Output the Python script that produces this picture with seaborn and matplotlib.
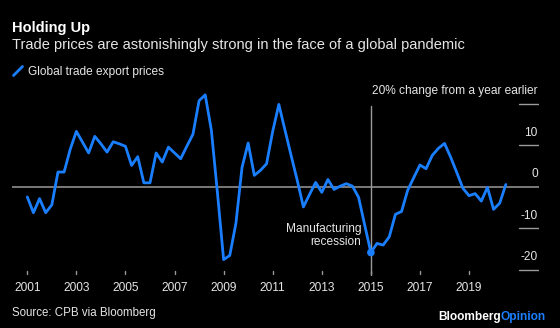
import matplotlib
matplotlib.use("Agg")
import matplotlib.pyplot as plt
import seaborn as sns
import pandas as pd

# Global trade export prices, % change from a year earlier (quarterly)
quarters = pd.period_range("2001Q1", "2020Q3", freq="Q")
export_prices = [
    -2.4, -6.2, -2.8, -6.2,    # 2001
    -4.3, 3.6, 3.6, 9.1,       # 2002
    13.4, 10.8, 8.2, 12.2,     # 2003
    10.4, 8.4, 10.9, 10.4,     # 2004
    9.8, 5.2, 7.3, 1.0,        # 2005
    1.0, 8.2, 6.0, 9.6,        # 2006
    8.2, 6.8, 9.8, 12.7,       # 2007
    20.8, 22.2, 13.7, -1.5,    # 2008
    -17.5, -16.5, -8.8, 4.7,   # 2009
    10.6, 2.8, 4.0, 5.6,       # 2010
    13.4, 19.9, 13.7, 7.6,     # 2011
    1.6, -4.8, -1.8, 1.1,      # 2012
    -1.3, 1.8, -0.6, 0.2,      # 2013
    0.8, 0.2, -2.5, -9.2,      # 2014
    -15.8, -13.6, -14.0, -12.0,  # 2015
    -6.6, -5.9, -0.8, 2.3,     # 2016
    5.3, 4.4, 7.6, 9.3,        # 2017
    10.5, 7.2, 3.5, -0.3,      # 2018
    -2.1, -1.6, -3.4, -0.1,    # 2019
    -5.4, -3.9, 0.6,           # 2020
]
x_ticks = [2001, 2003, 2005, 2007, 2009, 2011, 2013, 2015, 2017, 2019]
y_ticks = [20, 10, 0, -10, -20]
y_labels = ["20% change from a year earlier", "10", "0", "-10", "-20"]
recession_quarter = "2015Q1"

df = pd.DataFrame({
    "t": [q.year + (q.quarter - 1) / 4 for q in quarters],
    "value": export_prices,
})

BG = "black"
BLUE = "#1a7fff"
GRID = "#9a9a9a"
TEXT = "#e6e6e6"

sns.set_style("dark", {"axes.facecolor": BG, "figure.facecolor": BG})
plt.rcParams["font.family"] = ["Liberation Sans", "DejaVu Sans"]

W, H = 560, 328
fig = plt.figure(figsize=(W / 100, H / 100), dpi=100)
fig.patch.set_facecolor(BG)

# axes spans pixel columns 12..539 and rows 90..276
ax = fig.add_axes([12 / W, (H - 276) / H, 527 / W, 186 / H])
ax.set_facecolor(BG)
ax.set_xlim(2000.377, 2021.851)
ax.set_ylim(-21.45, 23.37)
for s in ax.spines.values():
    s.set_visible(False)
ax.set_xticks([])
ax.set_yticks([])

# zero line across the plot
ax.axhline(0, color=GRID, lw=1.1, zorder=1)

# short right-hand gridlines with labels above
x_right0, x_right1 = 2021.03, 2021.851
for v, lab in zip(y_ticks, y_labels):
    if v != 0:
        ax.plot([x_right0, x_right1], [v, v], color=GRID, lw=1.0, zorder=1)
    ax.annotate(lab, xy=(x_right1 - 0.05, v), xytext=(0, 5), textcoords="offset points",
                ha="right", va="bottom", color=TEXT, fontsize=8.6)

# vertical marker for 2015
ax.plot([2015, 2015], [-21.2, 19.6], color=GRID, lw=1.0, zorder=1)

# x tick marks and labels
for yr in x_ticks:
    ax.plot([yr, yr], [-20.2, -21.0], color=GRID, lw=1.0, zorder=1)
    ax.annotate(str(yr), xy=(yr, -21.45), xytext=(0, -4), textcoords="offset points",
                ha="center", va="top", color=TEXT, fontsize=8.6, annotation_clip=False)

sns.lineplot(data=df, x="t", y="value", ax=ax, color=BLUE, lw=2.0, legend=False, zorder=3)

rq = pd.Period(recession_quarter, freq="Q")
rt = rq.year + (rq.quarter - 1) / 4
rv = df.loc[df["t"] == rt, "value"].iloc[0]
ax.scatter([rt], [rv], s=30, color=BLUE, zorder=4, edgecolor="none")
ax.annotate("Manufacturing\nrecession", xy=(rt, rv), xytext=(-7, 3), textcoords="offset points",
            ha="right", va="bottom", color=TEXT, fontsize=8.6, linespacing=1.15)
ax.set_xlabel("")
ax.set_ylabel("")

# header
fig.text(12 / W, 1 - 32 / H, "Holding Up", color="white", fontsize=10.5, fontweight="bold",
         ha="left", va="baseline")
fig.text(12 / W, 1 - 49.5 / H, "Trade prices are astonishingly strong in the face of a global pandemic",
         color=TEXT, fontsize=10.5, ha="left", va="baseline")
fig.add_artist(plt.Line2D([13.5 / W, 22.5 / W], [1 - 75.5 / H, 1 - 66.5 / H], color=BLUE, lw=2.0))
fig.text(28.5 / W, 1 - 75 / H, "Global trade export prices", color=TEXT, fontsize=8.6,
         ha="left", va="baseline")

# footer
fig.text(12 / W, 1 - 316 / H, "Source: CPB via Bloomberg", color=TEXT, fontsize=8.3,
         ha="left", va="baseline")
t1 = fig.text(546 / W, 1 - 320 / H, "Opinion", color=BLUE, fontsize=8.6, fontweight="bold",
              ha="right", va="baseline")
fig.canvas.draw()
bb = t1.get_window_extent()
fig.text(bb.x0 / W, 1 - 320 / H, "Bloomberg", color="white", fontsize=8.6, fontweight="bold",
         ha="right", va="baseline")

fig.savefig("out.png", dpi=100, facecolor=BG)
